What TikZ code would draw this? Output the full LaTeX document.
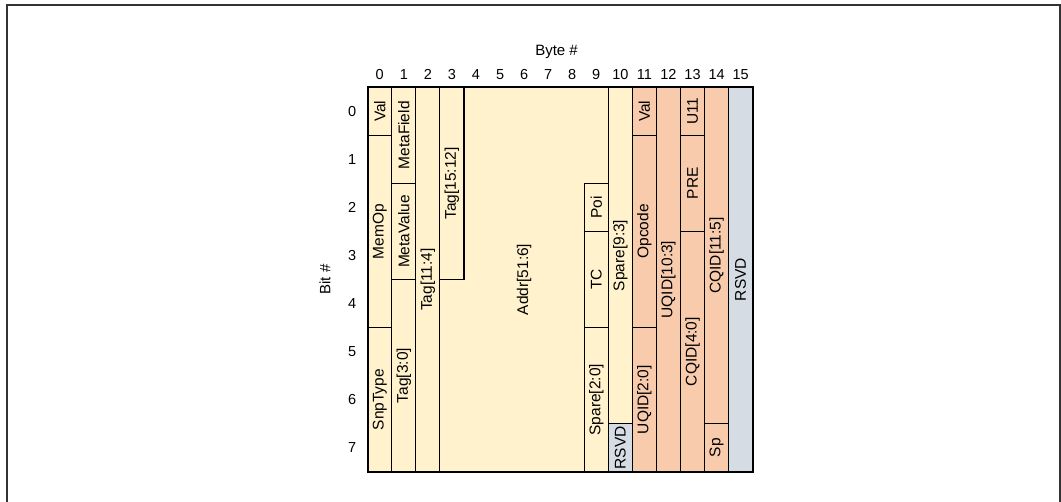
\documentclass[tikz,border=0pt]{standalone}
\usepackage{fontspec}
\setmainfont{Liberation Sans}
\usepackage{tikz}
\usetikzlibrary{positioning}
\usepackage{xcolor}
\definecolor{fieldcream}{HTML}{FFF2CC}
\definecolor{fieldpeach}{HTML}{F8CBAD}
\definecolor{fieldslate}{HTML}{D6DCE4}

\begin{document}
\begin{tikzpicture}[
  x=1pt, y=-1pt,
  field/.style={draw, line width=1.2pt, inner sep=0pt, outer sep=0pt, rotate=90, font=\fontsize{15.5}{18}\selectfont},
  axislbl/.style={inner sep=0pt, font=\fontsize{14.5}{17}\selectfont},
]
  \useasboundingbox (0,0) rectangle (1061,502);
  % Frame
  \draw[black!80, line width=1.5pt] (7,520) -- (7,5) -- (1060,5) -- (1060,520);

  \begin{scope}[xshift=367.7pt, yshift=-87.3pt, x=24.06pt, y=-48.05pt]
    % Addr block (not a rectangle)
    \filldraw[fill=fieldcream, line width=1.2pt] (3,4) -- (4,4) -- (4,0) -- (10,0) -- (10,2) -- (9,2) -- (9,8) -- (3,8) -- cycle;
    \node[field, draw=none] (addr) at (6.5,4) {Addr[51:6]};

    % Fields: name/col/row/cols/rows/colour/text
    \foreach \nm/\c/\r/\w/\h/\col/\txt in {
      val0/0/0/1/1/fieldcream/Val,
      memop/0/1/1/4/fieldcream/MemOp,
      snptype/0/5/1/3/fieldcream/SnpType,
      metafield/1/0/1/2/fieldcream/MetaField,
      metavalue/1/2/1/2/fieldcream/MetaValue,
      tagA/1/4/1/4/fieldcream/Tag[3:0],
      tagB/2/0/1/8/fieldcream/Tag[11:4],
      tagC/3/0/1/4/fieldcream/Tag[15:12],
      poi/9/2/1/1/fieldcream/Poi,
      tc/9/3/1/2/fieldcream/TC,
      spareA/9/5/1/3/fieldcream/Spare[2:0],
      spareB/10/0/1/7/fieldcream/Spare[9:3],
      rsvdA/10/7/1/1/fieldslate/RSVD,
      val11/11/0/1/1/fieldpeach/Val,
      opcode/11/1/1/4/fieldpeach/Opcode,
      uqidA/11/5/1/3/fieldpeach/UQID[2:0],
      uqidB/12/0/1/8/fieldpeach/UQID[10:3],
      u11/13/0/1/1/fieldpeach/U11,
      pre/13/1/1/2/fieldpeach/PRE,
      cqidA/13/3/1/5/fieldpeach/CQID[4:0],
      cqidB/14/0/1/7/fieldpeach/CQID[11:5],
      sp/14/7/1/1/fieldpeach/Sp,
      rsvdB/15/0/1/8/fieldslate/RSVD}
      \node[field, fill=\col, minimum width=\h*48.05pt, minimum height=\w*24.06pt] (\nm) at ({\c+\w/2},{\r+\h/2}) {\txt};

    % Outline
    \draw[line width=1.8pt] (0,0) rectangle (16,8);

    % Axes
    \foreach \i in {0,...,15}
      \node[axislbl] (byte\i) at (\i+0.5,-0.26) {\i};
    \foreach \j in {0,...,7}
      \node[axislbl] (bit\j) at (-0.65,\j+0.5) {\j};
    \node[axislbl, font=\fontsize{15}{18}\selectfont] (bytehdr) at (7.85,-0.74) {Byte \#};
    \node[axislbl, font=\fontsize{15}{18}\selectfont, rotate=90] (bithdr) at (-1.77,4) {Bit \#};
  \end{scope}
\end{tikzpicture}
\end{document}
